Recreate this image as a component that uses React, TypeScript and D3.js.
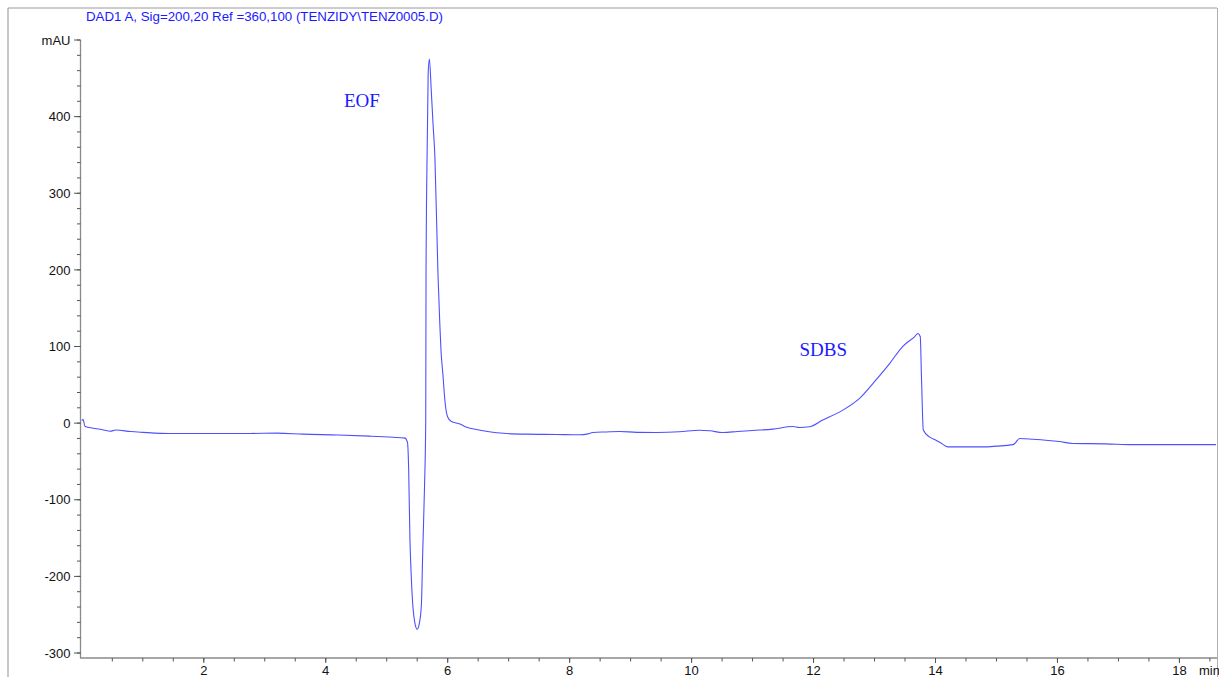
import { useEffect, useRef } from 'react';
import * as d3 from 'd3';

// retention time (min) and detector signal (mAU)
const times = [
  0.0, 0.02, 0.05, 0.15, 0.3, 0.46, 0.56, 0.8, 1.0, 1.44, 2.0, 2.75, 3.2, 3.63, 4.2, 4.72, 5.1, 5.3,
  5.34, 5.36, 5.38, 5.4, 5.43, 5.46, 5.5, 5.54, 5.57, 5.59, 5.62, 5.64, 5.645, 5.655, 5.68, 5.7,
  5.73, 5.76, 5.79, 5.84, 5.87, 5.89, 5.92, 5.96, 6.0, 6.06, 6.2, 6.3, 6.52, 6.58, 6.8, 6.96, 7.29,
  7.78, 8.16, 8.3, 8.38, 8.6, 8.82, 9.1, 9.42, 9.8, 10.13, 10.3, 10.51, 10.75, 11.0, 11.33, 11.66,
  11.77, 11.93, 12.15, 12.48, 12.75, 13.02, 13.25, 13.46, 13.66, 13.71, 13.75, 13.77, 13.8, 13.9,
  14.0, 14.09, 14.2, 14.56, 14.78, 15.0, 15.27, 15.3, 15.38, 15.6, 16.03, 16.25, 16.8, 17.23, 18.0, 18.6,
];
const signal = [
  3, 5, -4, -6, -8, -10.5, -9, -11, -12, -13.5, -13.5, -13.5, -13, -14.4, -15.5, -17, -18.5, -19.6,
  -25, -60, -149, -195, -240, -260, -269, -259, -235, -170, -83, 4, 204, 305, 457, 475,
  435, 390, 348, 196, 131, 95, 65, 25, 8, 2, -1, -5, -9, -10, -12.5, -13.5, -14.4,
  -14.8, -15.2, -14, -12.2, -11.5, -10.9, -12, -12.2, -11.3, -9.2, -10, -12.2, -11, -9.6, -7.8, -4.4,
  -5.7, -4.8, 4, 17, 32, 56, 78, 100, 113, 117, 113, 60, -9, -18,
  -22, -26, -31, -31, -31, -30, -28, -26.5, -20, -21, -24, -26.5, -27, -28, -28, -28,
];

const yMajor = [-300, -200, -100, 0, 100, 200, 300, 400];
const xMajor = [2, 4, 6, 8, 10, 12, 14, 16, 18];

const peakLabels = [
  { name: 'EOF', t: 4.3, v: 412 },
  { name: 'SDBS', t: 11.77, v: 88 },
];

const title = 'DAD1 A, Sig=200,20 Ref =360,100 (TENZIDY\\TENZ0005.D)';

function Chromatogram() {
  const svgRef = useRef<SVGSVGElement>(null);

  useEffect(() => {
    if (!svgRef.current) return;
    const width = 1219;
    const height = 677;
    const svg = d3.select(svgRef.current);
    svg.selectAll('*').remove();
    svg.attr('width', width).attr('height', height);

    const x = d3.scaleLinear().domain([-0.03, 18.6]).range([80, 1216]);
    const y = d3.scaleLinear().domain([-306.5, 500]).range([658, 40]);
    const sans = 'Helvetica, Arial, "Liberation Sans", sans-serif';
    const serif = '"Times New Roman", "Liberation Serif", serif';

    // outer frame
    svg.append('line').attr('x1', 8).attr('y1', 8).attr('x2', 8).attr('y2', height)
      .attr('stroke', '#c8c8c8').attr('stroke-width', 2);
    svg.append('line').attr('x1', 8).attr('y1', 8).attr('x2', 1217).attr('y2', 8)
      .attr('stroke', '#9a9a9a').attr('stroke-width', 1);
    svg.append('line').attr('x1', 1217.5).attr('y1', 8).attr('x2', 1217.5).attr('y2', height)
      .attr('stroke', '#b0b0b0').attr('stroke-width', 1);

    svg.append('text').attr('x', 86).attr('y', 21)
      .attr('fill', '#1a1aff').attr('font-family', sans).attr('font-size', 13.3).text(title);

    // y axis
    const yAxis = svg.append('g').attr('transform', 'translate(80.5,0)');
    yAxis.append('line').attr('x1', 0).attr('x2', 0).attr('y1', y(500)).attr('y2', y(-306.5))
      .attr('stroke', '#8a8a8a').attr('stroke-width', 1.3);
    const yMinor = d3.range(-300, 501, 20);
    yAxis.selectAll('line.minor').data(yMinor).join('line').attr('class', 'minor')
      .attr('x1', -3.5).attr('x2', 0).attr('y1', d => y(d)).attr('y2', d => y(d))
      .attr('stroke', '#555').attr('stroke-width', 1);
    yAxis.selectAll('line.major').data([...yMajor, 500]).join('line').attr('class', 'major')
      .attr('x1', -6.5).attr('x2', 0).attr('y1', d => y(d)).attr('y2', d => y(d))
      .attr('stroke', '#555').attr('stroke-width', 1);
    yAxis.selectAll('text.tl').data(yMajor).join('text').attr('class', 'tl')
      .attr('x', -10).attr('y', d => y(d)).attr('dy', '0.36em').attr('text-anchor', 'end')
      .attr('font-family', sans).attr('font-size', 13).attr('fill', '#111').text(d => String(d));
    yAxis.append('text').attr('x', -10).attr('y', y(500)).attr('dy', '0.36em').attr('text-anchor', 'end')
      .attr('font-family', sans).attr('font-size', 13).attr('fill', '#111').text('mAU');

    // x axis
    const xAxis = svg.append('g').attr('transform', `translate(0,${y(-306.5)})`);
    xAxis.append('line').attr('x1', 80).attr('x2', 1217).attr('y1', 0).attr('y2', 0)
      .attr('stroke', '#8a8a8a').attr('stroke-width', 1.5);
    const xMinor = d3.range(0.5, 18.6, 0.5);
    xAxis.selectAll('line.minor').data(xMinor).join('line').attr('class', 'minor')
      .attr('x1', d => x(d)).attr('x2', d => x(d)).attr('y1', 0).attr('y2', 3.5)
      .attr('stroke', '#555').attr('stroke-width', 1);
    xAxis.selectAll('line.major').data(xMajor).join('line').attr('class', 'major')
      .attr('x1', d => x(d)).attr('x2', d => x(d)).attr('y1', 0).attr('y2', 5)
      .attr('stroke', '#555').attr('stroke-width', 1);
    xAxis.selectAll('text.tl').data(xMajor).join('text').attr('class', 'tl')
      .attr('x', d => x(d)).attr('y', 17).attr('text-anchor', 'middle')
      .attr('font-family', sans).attr('font-size', 13).attr('fill', '#111').text(d => String(d));
    xAxis.append('text').attr('x', 1199).attr('y', 17)
      .attr('font-family', sans).attr('font-size', 13).attr('fill', '#111').text('min');

    // trace
    const pts = times.map((t, i) => [t, signal[i]] as [number, number]);
    const line = d3.line<[number, number]>().x(d => x(d[0])).y(d => y(d[1])).curve(d3.curveMonotoneX);
    svg.append('path').datum(pts).attr('fill', 'none').attr('stroke', '#4f4fff')
      .attr('stroke-width', 1.1).attr('d', line);

    svg.selectAll('text.peak').data(peakLabels).join('text').attr('class', 'peak')
      .attr('x', d => x(d.t)).attr('y', d => y(d.v))
      .attr('font-family', serif).attr('font-size', 19).attr('fill', '#1a1aff').text(d => d.name);
  }, []);

  return <svg ref={svgRef} style={{ display: 'block' }} />;
}

export default function App() {
  return (
    <div style={{ position: 'absolute', left: 0, top: 0, width: 1219, height: 677, overflow: 'hidden', background: '#fff' }}>
      <Chromatogram />
    </div>
  );
}
